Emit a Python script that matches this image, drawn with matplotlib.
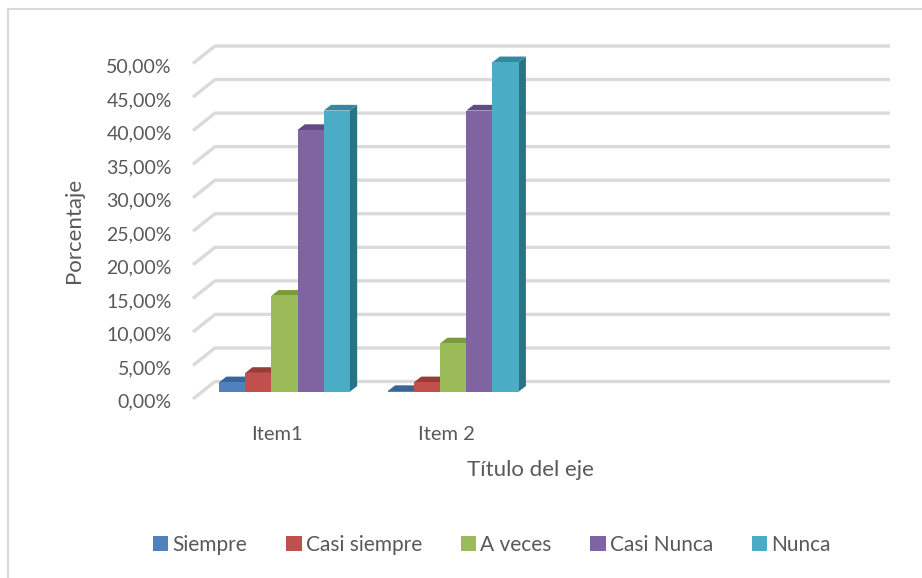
import matplotlib.pyplot as plt
from matplotlib.patches import Polygon, Rectangle
import numpy as np

# datos del grafico
categorias = ['Item1', 'Item 2', '', '']
series = ['Siempre', 'Casi siempre', 'A veces', 'Casi Nunca', 'Nunca']
item1 = [1.4, 2.8, 14.3, 39.0, 41.9]
item2 = [0.1, 1.4, 7.2, 41.9, 49.1]
ticks = np.arange(0, 55, 5)

frente = ['#4F81BD', '#C0504D', '#9BBB59', '#8064A2', '#4BACC6']
arriba = ['#3A6497', '#9A3B38', '#7A9A3C', '#624A84', '#35899F']
lado = ['#2F5585', '#85302E', '#66832F', '#523D70', '#2B7285']
gris = '#595959'

W, H = 922, 578
fig = plt.figure(figsize=(W / 100, H / 100), dpi=100)
plt.rcParams['font.family'] = ['Lato', 'DejaVu Sans']

# plano frontal: x de 193 a 868 px, 0% en y=399, 50% en y=63.5
x0, x1 = 193, 868
y0, y50 = 399, 63.5
ax = fig.add_axes([x0 / W, (H - y0) / H, (x1 - x0) / W, (y0 - y50) / H])
ax.set_xlim(0, 4)
ax.set_ylim(0, 50)
ax.axis('off')

# profundidad del fondo (pared) y de las barras en unidades de datos
px_x = 4 / (x1 - x0)
px_y = 50 / (y0 - y50)
fdx, fdy = 22 * px_x, 17.5 * px_y      # pared del fondo
bdx, bdy = 9.2 * px_x, 7.3 * px_y      # cara frontal de las barras
pdx, pdy = 7.3 * px_x, 5.7 * px_y      # fondo de cada barra

# lineas de division con la pared lateral
for v in ticks:
    ax.plot([0, fdx, 4 + fdx], [v, v + fdy, v + fdy], color='#DADADA',
            lw=2.4, solid_capstyle='butt', clip_on=False, zorder=1)
    ax.text(-0.125, v - 0.5, f'{v:.2f}%'.replace('.', ','), ha='right', va='center',
            fontsize=14, color=gris, clip_on=False)

ancho = 0.155
valores = np.array([item1, item2])
for c in range(2):
    for k in range(5):
        v = valores[c, k]
        xl = c + 0.10 + k * ancho + bdx
        xr = xl + ancho
        yb = bdy
        yt = bdy + v
        # lado derecho
        ax.add_patch(Polygon([(xr, yb), (xr + pdx, yb + pdy), (xr + pdx, yt + pdy), (xr, yt)],
                             closed=True, fc=lado[k], ec='none', zorder=2 + k, clip_on=False))
        # cara superior
        ax.add_patch(Polygon([(xl, yt), (xl + pdx, yt + pdy), (xr + pdx, yt + pdy), (xr, yt)],
                             closed=True, fc=arriba[k], ec='none', zorder=2 + k, clip_on=False))
        ax.bar(xl, v, bottom=yb, width=ancho, align='edge', color=frente[k],
               zorder=2.5 + k, clip_on=False, label=series[k] if c == 0 else None)

# etiquetas de categorias
for i, cat in enumerate(categorias):
    ax.text(i + 0.5, -5.3, cat, ha='center', va='center', fontsize=14.5, color=gris)

fig.text(530 / W, 1 - 470 / H, 'Título del eje', ha='center', va='center',
         fontsize=16, color=gris)
fig.text(74 / W, 1 - 230 / H, 'Porcentaje', ha='center', va='center',
         rotation=90, fontsize=16, color=gris)

# leyenda
handles = [Rectangle((0, 0), 1, 1, fc=col) for col in frente]
fig.legend(handles, series, loc='center', bbox_to_anchor=(492 / W, 1 - 545 / H),
           ncol=5, frameon=False, fontsize=15, labelcolor=gris,
           handlelength=0.75, handleheight=0.75, handletextpad=0.2, columnspacing=1.85)

# borde del area del grafico
fig.patches.append(Rectangle((8 / W, -0.1), 1.2, 1 - 9 / H + 0.1, transform=fig.transFigure,
                             fill=False, ec='#D9D9D9', lw=1.5))

fig.savefig('out.png', dpi=100)
